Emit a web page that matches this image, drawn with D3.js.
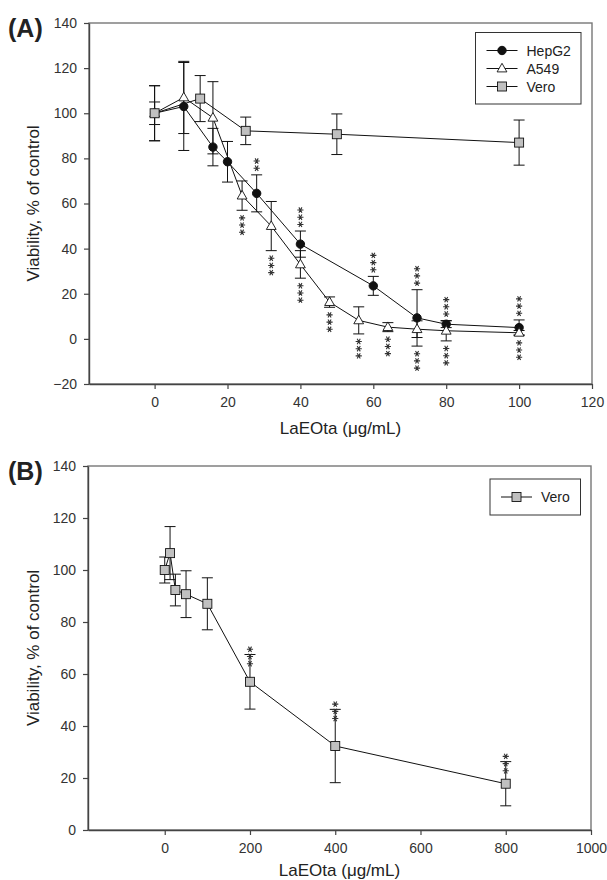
<!DOCTYPE html>
<html>
<head>
<meta charset="utf-8">
<script src="https://cdn.jsdelivr.net/npm/d3@7"></script>
<style>
  body { margin: 0; background: #fff; }
  svg { display: block; font-family: "Liberation Sans", Arial, sans-serif; }
  .tick text { fill: #333; font-size: 14px; }
</style>
</head>
<body>
<div id="chart"></div>
<script>
// Panel A data
const hepX   = [0, 8, 16, 20, 28, 40, 60, 72, 80, 100];
const hepY   = [100, 103, 85, 78.5, 64.5, 42, 23.5, 9.3, 6.5, 5];
const hepErr = [12.2, 19.5, 8.3, 9, 8.2, 5.8, 4.2, 12.5, 1.5, 3.4];
const hepSig = ["", "", "", "", "**", "***", "***", "***", "***", "***"];

const a549X   = [0, 8, 16, 24, 32, 40, 48, 56, 64, 72, 80, 100];
const a549Y   = [100, 107, 98, 63.5, 50, 33, 16.3, 8.2, 5.2, 4.3, 3.6, 2.7];
const a549Err = [12.2, 16, 16, 6.5, 10.9, 6.1, 2.3, 6, 2, 3.7, 4.5, 1];
const a549Sig = ["", "", "", "***", "***", "***", "***", "***", "***", "***", "***", "***"];

const veroAX   = [0, 12.5, 25, 50, 100];
const veroAY   = [100, 106.5, 92.2, 90.7, 87];
const veroAErr = [5, 10.2, 6.1, 9, 10];

// Panel B data
const veroBX   = [0, 12.5, 25, 50, 100, 200, 400, 800];
const veroBY   = [100, 106.5, 92.3, 90.7, 87, 57, 32.3, 17.8];
const veroBErr = [5, 10.2, 6.1, 9, 10, 10.5, 14.1, 8.5];
const veroBSig = ["", "", "", "", "", "***", "***", "***"];

const ticksAX = [0, 20, 40, 60, 80, 100, 120];
const ticksAY = [-20, 0, 20, 40, 60, 80, 100, 120, 140];
const ticksBX = [0, 200, 400, 600, 800, 1000];
const ticksBY = [0, 20, 40, 60, 80, 100, 120, 140];

const xTitle = "LaEOta (\u03BCg/mL)";
const yTitle = "Viability, % of control";

const W = 607, H = 880;
const svg = d3.select("#chart").append("svg").attr("width", W).attr("height", H);

function pack(xs, ys, es, sig) {
  return xs.map((x, i) => ({x: x, y: ys[i], e: es[i], s: sig ? sig[i] : ""}));
}

function drawMarker(g, shape, cx, cy) {
  if (shape === "circle") {
    g.append("circle").attr("cx", cx).attr("cy", cy).attr("r", 4.2)
      .attr("fill", "#111").attr("stroke", "#111");
  } else if (shape === "triangle") {
    g.append("path")
      .attr("d", `M${cx},${cy - 5.2}L${cx + 4.9},${cy + 3.4}L${cx - 4.9},${cy + 3.4}Z`)
      .attr("fill", "#fff").attr("stroke", "#111").attr("stroke-width", 0.9);
  } else {
    g.append("rect").attr("x", cx - 4.5).attr("y", cy - 4.5).attr("width", 9).attr("height", 9)
      .attr("fill", "#c0c0c0").attr("stroke", "#111").attr("stroke-width", 0.9);
  }
}

const star = d3.symbol(d3.symbolAsterisk, 26);
const starGap = 7.2;

// column of asterisks centred on (cx, cy)
function drawStars(g, cx, cy, n) {
  for (let k = 0; k < n; k++) {
    const sy = cy + (k - (n - 1) / 2) * starGap;
    g.append("path").attr("d", star())
      .attr("transform", `translate(${cx},${sy}) rotate(90)`)
      .attr("fill", "none").attr("stroke", "#333").attr("stroke-width", 1.1);
  }
}

function panel(opt) {
  const g = svg.append("g");
  const x = d3.scaleLinear().domain(opt.xDomain).range([opt.left, opt.right]);
  const y = d3.scaleLinear().domain(opt.yDomain).range([opt.bottom, opt.top]);

  // frame
  g.append("rect").attr("x", opt.left).attr("y", opt.top)
    .attr("width", opt.right - opt.left).attr("height", opt.bottom - opt.top)
    .attr("fill", "none").attr("stroke", "#777").attr("stroke-width", 1.4);

  const xa = g.append("g").attr("transform", `translate(0,${opt.bottom})`)
    .call(d3.axisBottom(x).tickValues(opt.xTicks).tickFormat(d3.format("d"))
      .tickSize(5).tickPadding(8).tickSizeOuter(0));
  const ya = g.append("g").attr("transform", `translate(${opt.left},0)`)
    .call(d3.axisLeft(y).tickValues(opt.yTicks).tickFormat(d3.format("d"))
      .tickSize(5).tickPadding(7).tickSizeOuter(0));
  [xa, ya].forEach(a => {
    a.select(".domain").attr("stroke", "#444").attr("stroke-width", 1.4);
    a.selectAll(".tick line").attr("stroke", "#444").attr("stroke-width", 1.2);
    a.selectAll(".tick text").attr("font-family", "Liberation Sans, Arial, sans-serif");
  });

  // titles
  g.append("text").attr("x", (opt.left + opt.right) / 2).attr("y", opt.bottom + opt.titleGap)
    .attr("text-anchor", "middle").attr("font-size", 17).attr("fill", "#222").text(xTitle);
  g.append("text")
    .attr("transform", `translate(39,${(opt.top + opt.bottom) / 2}) rotate(-90)`)
    .attr("text-anchor", "middle").attr("font-size", 17).attr("fill", "#222").text(yTitle);
  g.append("text").attr("x", 8).attr("y", opt.top + 14)
    .attr("font-size", 25).attr("font-weight", "bold").attr("fill", "#222").text(opt.label);

  const line = d3.line().x(d => x(d.x)).y(d => y(d.y));
  const cap = 5.5;

  opt.series.forEach(s => {
    g.append("path").datum(s.data).attr("d", line)
      .attr("fill", "none").attr("stroke", "#111").attr("stroke-width", 1);
    s.data.forEach(d => {
      const cx = x(d.x), y1 = y(d.y + d.e), y2 = y(d.y - d.e);
      g.append("line").attr("x1", cx).attr("x2", cx).attr("y1", y1).attr("y2", y2)
        .attr("stroke", "#111").attr("stroke-width", 1);
      [y1, y2].forEach(yy => g.append("line")
        .attr("x1", cx - cap).attr("x2", cx + cap).attr("y1", yy).attr("y2", yy)
        .attr("stroke", "#111").attr("stroke-width", 1));
    });
  });
  opt.series.forEach(s => {
    s.data.forEach(d => drawMarker(g, s.shape, x(d.x), y(d.y)));
  });

  // significance marks, kept clear of the error bars of the tested series
  const tested = opt.series.filter(s => s.sigPos).flatMap(s => s.data);
  opt.series.forEach(s => {
    s.data.forEach(d => {
      if (!d.s) return;
      const n = d.s.length;
      const len = n * starGap;
      const same = tested.filter(p => p.x === d.x);
      let cy;
      if (s.sigPos === "above") {
        cy = y(d3.max(same, p => p.y + p.e)) - 3 - len / 2;
      } else if (s.sigPos === "below") {
        cy = y(d3.min(same, p => p.y - p.e)) + 4 + len / 2;
      } else {
        cy = y(d.y + d.e) + 2;
      }
      drawStars(g, x(d.x), cy, n);
    });
  });

  // legend
  const lg = g.append("g");
  lg.append("rect").attr("x", opt.legend.x).attr("y", opt.legend.y)
    .attr("width", opt.legend.w).attr("height", opt.legend.h)
    .attr("fill", "#fff").attr("stroke", "#333").attr("stroke-width", 1);
  opt.series.forEach((s, i) => {
    const ry = opt.legend.y + opt.legend.pad + i * 18;
    const lx = opt.legend.x + 11;
    lg.append("line").attr("x1", lx).attr("x2", lx + 31).attr("y1", ry).attr("y2", ry)
      .attr("stroke", "#111").attr("stroke-width", 1);
    drawMarker(lg, s.shape, lx + 15.5, ry);
    lg.append("text").attr("x", lx + 40).attr("y", ry).attr("dy", "0.36em")
      .attr("font-size", 14).attr("fill", "#222").text(s.name);
  });
}

panel({
  label: "(A)",
  left: 89, right: 592, top: 23, bottom: 384, titleGap: 50,
  xDomain: [-18, 120], yDomain: [-20, 140],
  xTicks: ticksAX, yTicks: ticksAY,
  legend: {x: 475.5, y: 32.5, w: 105.5, h: 71.5, pad: 18},
  series: [
    {name: "HepG2", shape: "circle", sigPos: "above", data: pack(hepX, hepY, hepErr, hepSig)},
    {name: "A549", shape: "triangle", sigPos: "below", data: pack(a549X, a549Y, a549Err, a549Sig)},
    {name: "Vero", shape: "square", data: pack(veroAX, veroAY, veroAErr)}
  ]
});

panel({
  label: "(B)",
  left: 88, right: 591, top: 466, bottom: 830, titleGap: 46,
  xDomain: [-180, 1000], yDomain: [0, 140],
  xTicks: ticksBX, yTicks: ticksBY,
  legend: {x: 490, y: 479, w: 90.5, h: 36, pad: 18},
  series: [
    {name: "Vero", shape: "square", sigPos: "cap", data: pack(veroBX, veroBY, veroBErr, veroBSig)}
  ]
});
</script>
</body>
</html>
